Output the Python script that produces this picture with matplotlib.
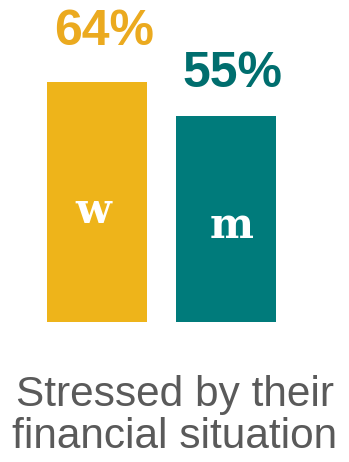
import matplotlib
matplotlib.use("Agg")
import matplotlib.pyplot as plt

groups = ["w", "m"]
values = [64, 55]
labels = ["64%", "55%"]
caption = "Stressed by their\nfinancial situation"

colors = ["#EEB41A", "#007B7B"]
label_colors = ["#EBAA1F", "#006E6E"]

W, H = 349, 462
fig = plt.figure(figsize=(W / 100, H / 100), dpi=100)
# axes bottom sits at the bar baseline (pixel row 322)
ax = fig.add_axes([0, (H - 322) / H, 1, 322 / H])
px = 129.0  # pixels per x unit
ax.set_xlim(-97 / px, 1 + (W - 226) / px)
ax.set_ylim(0, 322 / 3.75)
ax.axis("off")

bars = ax.bar(range(len(values)), values, width=100 / px, color=colors)

# value labels above bars (offsets in pixels)
lab_off = [(7, 37), (6, 29)]
for i, (v, lab) in enumerate(zip(values, labels)):
    ax.annotate(lab, (i, v), xytext=lab_off[i], textcoords="offset pixels",
                ha="center", va="baseline", fontsize=36, fontweight="bold",
                color=label_colors[i], family="Liberation Sans")

# letters inside bars
in_off = [(-4, 222.7), (6, 238)]
in_weight = ["bold", "semibold"]
for i, g in enumerate(groups):
    ax.annotate(g, (i, 0), xytext=(in_off[i][0], 322 - in_off[i][1]),
                textcoords="offset pixels", ha="center", va="baseline",
                fontsize=30, fontweight=in_weight[i], color="white",
                family="DejaVu Serif")

fig.text(0.5, 1 - 448 / H, caption, ha="center", va="baseline",
         fontsize=30.5, color="#5A5A5A", family="Liberation Sans",
         linespacing=1.08)

fig.savefig("out.png", dpi=100)
